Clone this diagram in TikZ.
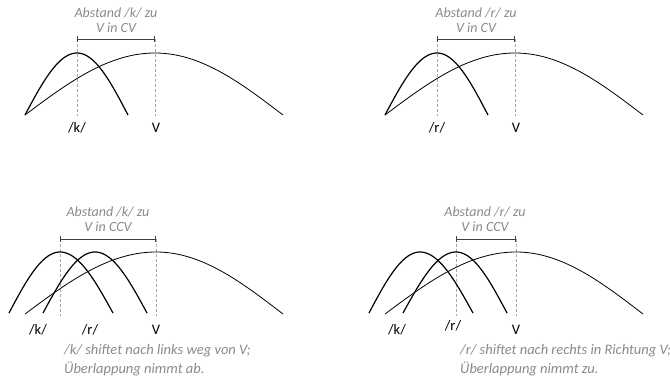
\documentclass[tikz,border=0pt]{standalone}
\usepackage{fontspec}
\setmainfont{Carlito}
\usetikzlibrary{arrows.meta}
\definecolor{notegray}{HTML}{8A8A8A}
\definecolor{guidegray}{HTML}{A8A8A8}
\definecolor{brkgray}{HTML}{404040}
\newcommand{\hump}[6]{%
  \draw[#6] plot[domain=0:90,samples=40] ({#1+(#2-#1)*\x/90},{#4-(#4-#5)*sin(\x)})
    -- plot[domain=90:180,samples=40] ({#2+(#3-#2)*(\x-90)/90},{#4-(#4-#5)*sin(\x)});}
\begin{document}
\begin{tikzpicture}[x=1pt,y=-1pt,
  gesture/.style={line width=1.2pt,black},
  vowel/.style={line width=0.8pt,black},
  guide/.style={densely dashed,guidegray,line width=0.5pt},
  brk/.style={line width=0.8pt,brkgray,{Bar[width=6pt]}-{Bar[width=6pt]}},
  note/.style={font=\itshape\fontsize{14}{15.5}\selectfont,text=notegray,align=center},
  remark/.style={font=\itshape\fontsize{14.5}{19}\selectfont,text=notegray,align=left,anchor=north west,inner sep=0pt},
  lab/.style={font=\fontsize{14.5}{16}\selectfont,inner sep=1pt}]
\useasboundingbox (0,0) rectangle (670,382);
% ---------- top left ----------
\coordinate (tlKb) at (77,39); \coordinate (tlKd) at (77,116);
\coordinate (tlVb) at (155,39); \coordinate (tlVd) at (155,116);
\draw[guide] (tlKb) -- (tlKd); \draw[guide] (tlVb) -- (tlVd);
\hump{25}{155}{283}{115}{53}{vowel}
\hump{25}{77}{128}{115}{53}{gesture}
\draw[brk] (tlKb) -- (tlVb);
\node[note] (tlN) at (116,20) {Abstand /k/ zu\\V in CV};
\node[lab] (tlK) at (77,128) {/k/};
\node[lab] (tlV) at (156,128) {V};
% ---------- top right ----------
\coordinate (trRb) at (437,39); \coordinate (trRd) at (437,116);
\coordinate (trVb) at (515,39); \coordinate (trVd) at (515,116);
\draw[guide] (trRb) -- (trRd); \draw[guide] (trVb) -- (trVd);
\hump{385}{515}{643}{115}{53}{vowel}
\hump{385}{437}{488}{115}{53}{gesture}
\draw[brk] (trRb) -- (trVb);
\node[note] (trN) at (476,20) {Abstand /r/ zu\\V in CV};
\node[lab] (trR) at (437,128) {/r/};
\node[lab] (trV) at (516,128) {V};
% ---------- bottom left ----------
\coordinate (blKb) at (60,239); \coordinate (blKd) at (60,316);
\coordinate (blVb) at (156,239); \coordinate (blVd) at (156,316);
\draw[guide] (blKb) -- (blKd); \draw[guide] (blVb) -- (blVd);
\hump{25}{156}{283}{314}{252}{vowel}
\hump{9}{60}{113}{313}{252}{gesture}
\hump{43}{95}{147}{313}{252}{gesture}
\draw[brk] (blKb) -- (blVb);
\node[note] (blN) at (108,219) {Abstand /k/ zu\\V in CCV};
\node[lab] (blK) at (38,330) {/k/};
\node[lab] (blR) at (90,330) {/r/};
\node[lab] (blV) at (156,330) {V};
\node[remark] (blT) at (64,344) {/k/ shiftet nach links weg von V;\\Überlappung nimmt ab.};
% ---------- bottom right ----------
\coordinate (brRb) at (456,239); \coordinate (brRd) at (456,316);
\coordinate (brVb) at (516,239); \coordinate (brVd) at (516,316);
\draw[guide] (brRb) -- (brRd); \draw[guide] (brVb) -- (brVd);
\hump{385}{516}{643}{314}{252}{vowel}
\hump{369}{420}{473}{313}{252}{gesture}
\hump{403}{456}{507}{313}{252}{gesture}
\draw[brk] (brRb) -- (brVb);
\node[note] (brN) at (485,219) {Abstand /r/ zu\\V in CCV};
\node[lab] (brK) at (397,330) {/k/};
\node[lab] (brR) at (453,326) {/r/};
\node[lab] (brV) at (516,330) {V};
\node[remark] (brT) at (460,344) {/r/ shiftet nach rechts in Richtung V;\\Überlappung nimmt zu.};
\end{tikzpicture}
\end{document}
